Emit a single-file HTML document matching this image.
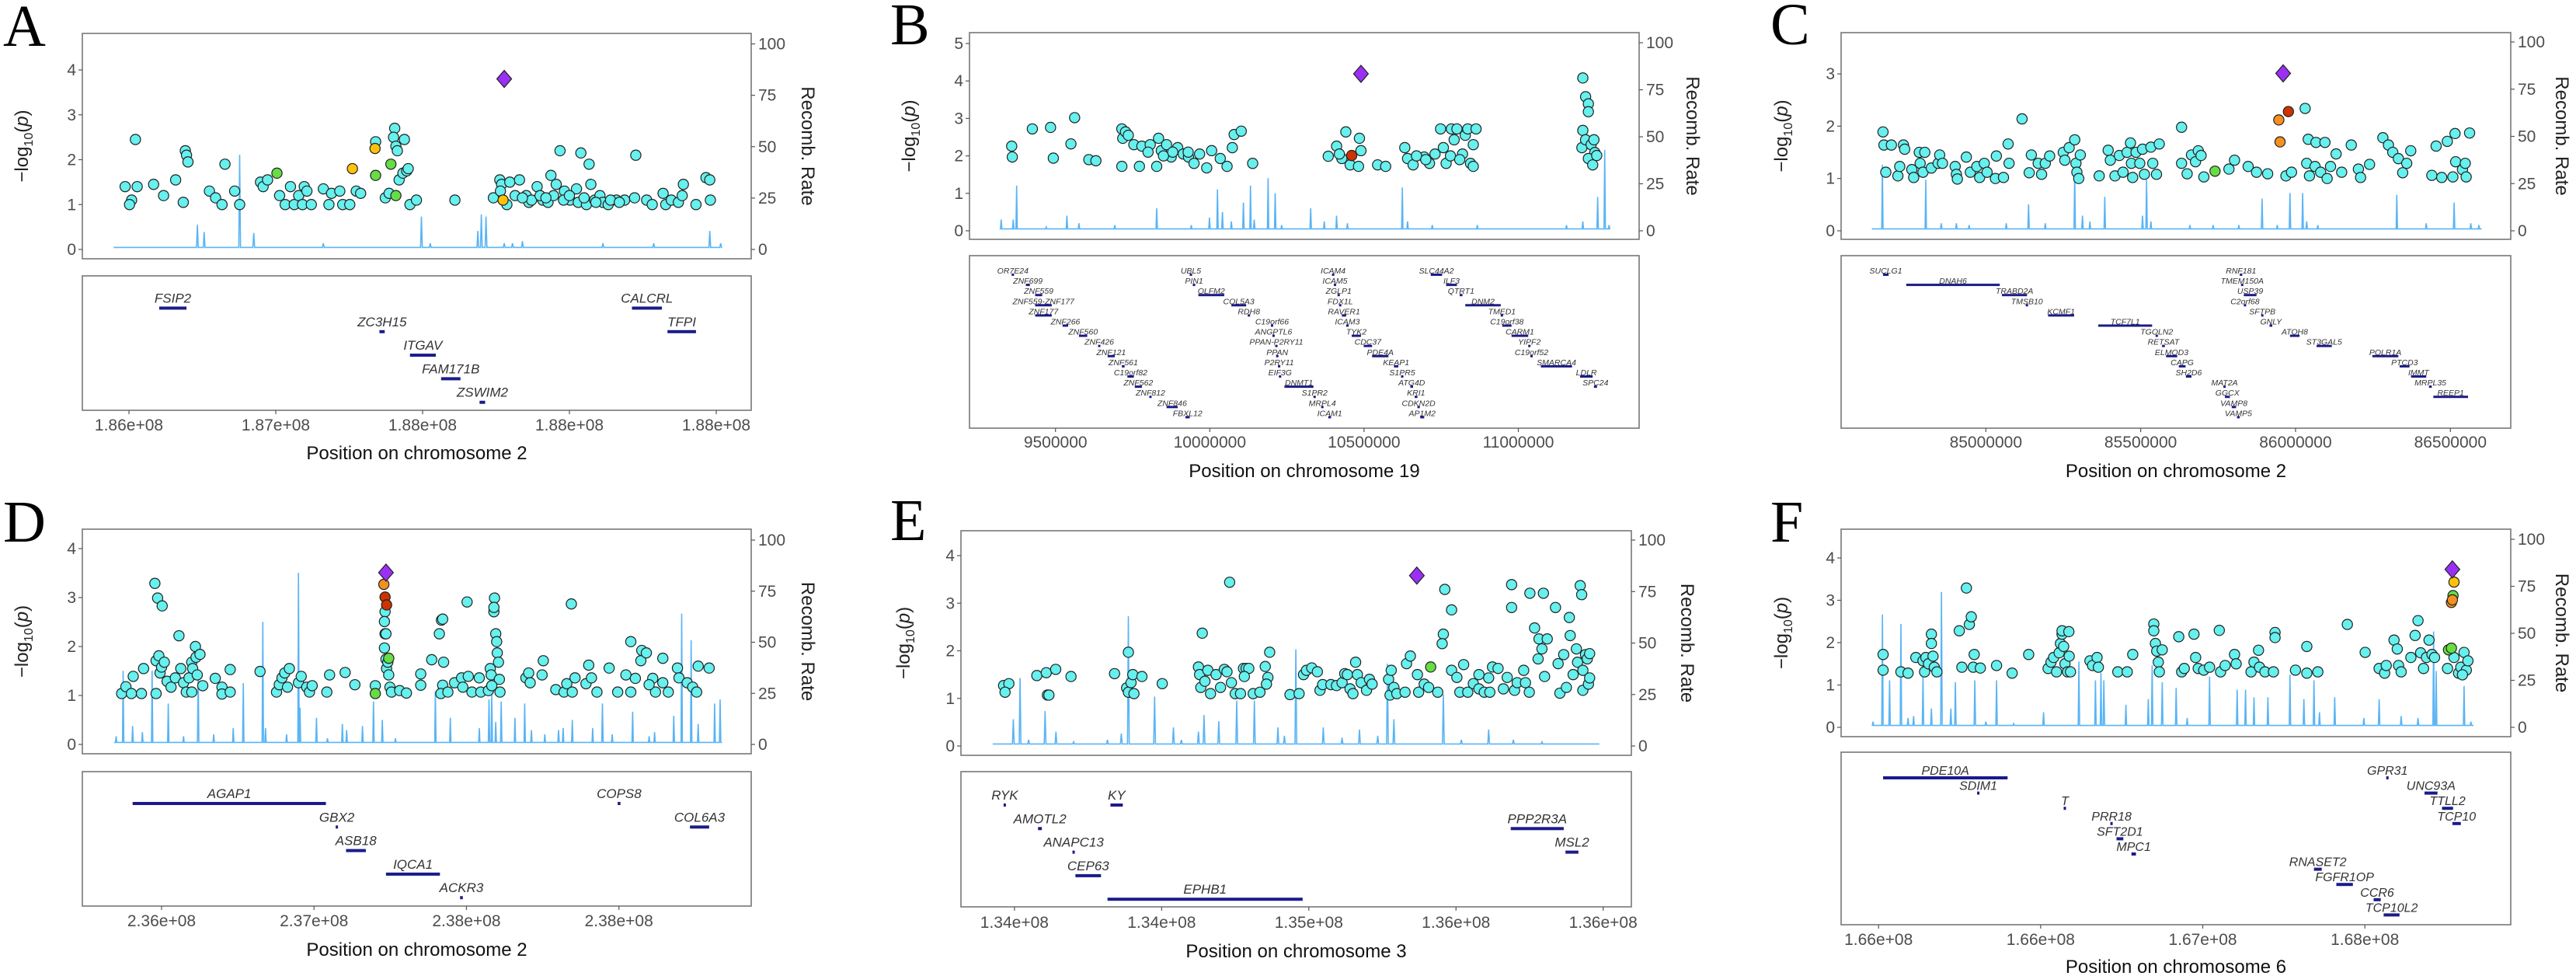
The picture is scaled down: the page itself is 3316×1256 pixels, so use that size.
<!DOCTYPE html>
<html>
<head>
<meta charset="utf-8">
<style>
html,body{margin:0;padding:0;background:#fff;}
svg{display:block;}
text{font-family:"Liberation Sans",Arial,sans-serif;}
</style>
</head>
<body>
<svg id="fig" width="3316" height="1256" viewBox="0 0 3316 1256"></svg>
<script>
/* ================= PANEL A (chr 2) ================= */
const A_xTicks=[186.0,186.5,187.0,187.5,188.0];
const A_xTickLabels=["1.86e+08","1.87e+08","1.88e+08","1.88e+08","1.88e+08"];
const A_yTicks=[0,1,2,3,4];
const A_pos=[185.987,186.009,186.002,186.028,186.022,186.084,186.118,186.159,186.185,186.192,186.196,186.201,186.274,186.295,186.317,186.327,186.360,186.377,186.448,186.457,186.472,186.513,186.532,186.550,186.563,186.578,186.591,186.597,186.606,186.621,186.662,186.681,186.690,186.718,186.728,186.752,186.774,186.789,186.840,186.873,186.886,186.905,186.901,186.909,186.914,186.938,186.920,186.933,186.946,186.951,186.957,186.979,187.110,187.241,187.263,187.269,187.265,187.287,187.297,187.315,187.330,187.353,187.362,187.390,187.409,187.427,187.437,187.446,187.455,187.468,187.483,187.502,187.524,187.539,187.530,187.567,187.573,187.558,187.586,187.604,187.614,187.632,187.660,187.688,187.726,187.722,187.763,187.782,187.819,187.828,187.847,187.871,187.888,187.884,187.931,187.965,187.978,187.980,187.371,187.34,187.40,187.42,187.48,187.50,187.55,187.59,187.64,187.67];
const A_logp=[1.4,1.1,1.0,1.4,2.45,1.45,1.2,1.55,1.05,2.2,2.1,1.95,1.3,1.15,1.0,1.9,1.3,1.0,1.5,1.4,1.55,1.2,1.0,1.4,1.0,1.2,1.0,1.4,1.3,1.0,1.35,1.0,1.25,1.3,1.0,1.0,1.3,1.25,2.4,1.15,1.25,2.7,2.5,2.3,2.2,2.45,1.55,1.7,1.75,1.8,1.0,1.1,1.1,1.15,1.55,1.45,1.3,1.0,1.5,1.2,1.55,1.2,1.05,1.4,1.1,1.05,1.65,1.2,1.45,2.2,1.3,1.1,1.35,2.15,1.05,1.9,1.45,1.0,1.1,1.2,1.05,1.0,1.1,1.1,2.1,1.15,1.1,1.0,1.25,1.0,1.1,1.05,1.45,1.2,1.0,1.6,1.55,1.1,1.1,1.15,1.2,1.15,1.1,1.2,1.15,1.05,1.1,1.05];
const A_hlPos=[186.761,186.838,187.274,186.504,186.840,186.892,186.909];
const A_hlLogp=[1.8,2.25,1.1,1.7,1.65,1.9,1.2];
const A_hlLd=["yellow","yellow","yellow","green","green","green","green"];
const A_leadPos=[187.278];
const A_leadLogp=[3.8];
const A_recPos=[185.948,186.233,186.256,186.377,186.425,186.662,186.996,187.026,187.188,187.200,187.216,187.278,187.306,187.340,187.614,187.787,187.978,188.015,188.02];
const A_recRate=[1,12,8.5,46,8,3,16,3,9,17,16,3,3,4,3,3,9,3,1];
const A_geneName=["FSIP2","CALCRL","ZC3H15","TFPI","ITGAV","FAM171B","ZSWIM2"];
const A_geneStart=[186.103,187.713,186.853,187.834,186.957,187.063,187.194];
const A_geneEnd=[186.196,187.815,186.871,187.931,187.045,187.129,187.213];
const A_geneRow=[0,0,1,1,2,3,4];

/* ================= PANEL B (chr 19) ================= */
const B_xTicks=[9.5,10.0,10.5,11.0];
const B_xTickLabels=["9500000","10000000","10500000","11000000"];
const B_yTicks=[0,1,2,3,4,5];
const B_pos=[9.358,9.360,9.425,9.484,9.493,9.550,9.562,9.608,9.631,9.715,9.718,9.727,9.736,9.715,9.754,9.772,9.780,9.807,9.828,9.834,9.843,9.860,9.875,9.896,9.914,9.931,9.949,9.967,9.990,10.006,10.034,10.056,10.073,10.079,10.102,10.139,10.384,10.411,10.428,10.441,10.455,10.482,10.485,10.490,10.544,10.570,10.632,10.641,10.659,10.695,10.712,10.730,10.748,10.757,10.766,10.783,10.792,10.801,10.819,10.828,10.836,10.845,10.854,10.863,10.854,11.209,11.218,11.227,11.227,11.209,11.206,11.218,11.236,11.245,11.248,11.227,11.241,11.254,9.80,9.85,9.88,9.93,10.67,10.70,10.78,10.81,10.42];
const B_logp=[2.26,1.97,2.72,2.76,1.94,2.32,3.02,1.90,1.87,2.72,2.47,2.64,2.55,1.72,2.30,1.72,2.26,2.30,1.72,2.47,2.14,2.30,1.97,2.22,2.05,1.97,1.80,2.05,1.68,2.14,1.93,1.72,2.22,2.57,2.66,1.80,1.99,2.26,1.93,2.64,1.76,1.72,2.47,2.14,1.76,1.72,2.22,1.93,1.76,1.97,1.80,2.05,2.72,2.22,1.80,2.72,2.43,2.72,2.05,2.55,2.72,1.80,2.30,2.72,1.72,4.08,3.58,3.39,3.18,2.68,2.22,2.43,2.30,2.43,2.09,1.93,1.76,2.01,2.1,2.0,2.1,2.1,2.0,1.9,2.0,1.9,2.05];
const B_hlPos=[10.460];
const B_hlLogp=[2.01];
const B_hlLd=["red"];
const B_leadPos=[10.490];
const B_leadLogp=[4.19];
const B_recPos=[9.319,9.324,9.363,9.374,9.470,9.537,9.576,9.692,9.828,9.940,9.999,10.025,10.041,10.070,10.109,10.132,10.144,10.189,10.212,10.233,10.327,10.371,10.411,10.446,10.624,10.641,10.721,10.867,11.156,11.209,11.257,11.280,11.294,11.298];
const B_recRate=[1,6,6,24,2,8,4,3,12,3,7,22,10,5,15,24,6,28,20,3,12,5,8,4,23,5,3,3,3,5,18,43,3,1];
const B_geneName=["OR7E24","ZNF699","ZNF559","ZNF559-ZNF177","ZNF177","ZNF266","ZNF560","ZNF426","ZNF121","ZNF561","C19orf82","ZNF562","ZNF812","ZNF846","FBXL12",
"UBL5","PIN1","OLFM2","COL5A3","RDH8","C19orf66","ANGPTL6","PPAN-P2RY11","PPAN","P2RY11","EIF3G","DNMT1","S1PR2","MRPL4","ICAM1",
"ICAM4","ICAM5","ZGLP1","FDX1L","RAVER1","ICAM3","TYK2","CDC37","PDE4A","KEAP1","S1PR5","ATG4D","KRI1","CDKN2D","AP1M2",
"SLC44A2","ILF3","QTRT1","DNM2","TMED1","C19orf38","CARM1","YIPF2","C19orf52","SMARCA4","LDLR","SPC24"];
const B_geneStart=[9.358,9.404,9.434,9.434,9.434,9.523,9.576,9.638,9.669,9.715,9.733,9.757,9.804,9.860,9.921,
9.935,9.945,9.963,10.070,10.123,10.198,10.203,10.212,10.215,10.221,10.224,10.242,10.336,10.361,10.384,
10.396,10.402,10.414,10.419,10.428,10.442,10.460,10.499,10.526,10.597,10.620,10.650,10.664,10.673,10.682,
10.716,10.766,10.810,10.828,10.943,10.948,10.978,11.032,11.039,11.073,11.200,11.245];
const B_geneEnd=[9.363,9.417,9.457,9.488,9.488,9.541,9.603,9.642,9.692,9.724,9.754,9.780,9.807,9.896,9.935,
9.938,9.953,10.047,10.118,10.130,10.203,10.208,10.215,10.221,10.224,10.229,10.336,10.340,10.366,10.393,
10.400,10.407,10.419,10.423,10.442,10.450,10.490,10.526,10.579,10.611,10.627,10.659,10.673,10.680,10.695,
10.753,10.801,10.819,10.943,10.948,10.978,11.032,11.037,11.044,11.174,11.241,11.255];
const B_geneRow=[0,1,2,3,4,5,6,7,8,9,10,11,12,13,14,0,1,2,3,4,5,6,7,8,9,10,11,12,13,14,0,1,2,3,4,5,6,7,8,9,10,11,12,13,14,0,1,2,3,4,5,6,7,8,9,10,11];

/* ================= PANEL C (chr 2) ================= */
const C_xTicks=[85.0,85.5,86.0,86.5];
const C_xTickLabels=["85000000","85500000","86000000","86500000"];
const C_yTicks=[0,1,2,3];
const C_pos=[84.668,84.671,84.695,84.677,84.716,84.722,84.734,84.738,84.761,84.767,84.785,84.788,84.803,84.797,84.824,84.846,84.851,84.860,84.901,84.905,84.908,84.937,84.950,84.971,84.980,84.995,85.004,85.031,85.034,85.057,85.075,85.072,85.117,85.140,85.147,85.169,85.180,85.192,85.206,85.250,85.255,85.269,85.287,85.291,85.294,85.300,85.305,85.366,85.395,85.402,85.417,85.431,85.443,85.456,85.467,85.470,85.474,85.485,85.497,85.506,85.512,85.539,85.533,85.560,85.551,85.632,85.632,85.650,85.664,85.677,85.686,85.695,85.704,85.785,85.803,85.847,85.874,85.910,85.969,85.987,86.031,86.041,86.066,86.095,86.036,86.045,86.063,86.081,86.102,86.113,86.131,86.149,86.180,86.203,86.210,86.239,86.282,86.300,86.314,86.332,86.346,86.359,86.372,86.440,86.454,86.472,86.490,86.508,86.515,86.517,86.539,86.548,86.551,86.562];
const C_logp=[1.89,1.64,1.64,1.12,1.05,1.23,1.64,1.56,1.17,1.02,1.50,1.29,1.50,1.12,1.20,1.29,1.45,1.29,1.23,1.08,0.99,1.41,1.12,1.23,1.02,1.29,1.12,1.00,1.43,1.02,1.29,1.66,2.14,1.11,1.45,1.29,1.08,1.29,1.43,1.50,1.35,1.59,1.74,1.29,1.12,1.00,1.45,1.05,1.54,1.35,1.05,1.44,1.12,1.50,1.68,1.29,1.02,1.50,1.29,1.56,1.08,1.29,1.60,1.66,1.08,1.98,1.29,1.09,1.45,1.32,1.53,1.44,1.03,1.18,1.35,1.23,1.12,1.09,1.05,1.12,2.34,1.75,1.69,1.69,1.29,1.05,1.23,1.12,1.00,1.23,1.47,1.12,1.64,1.18,1.02,1.27,1.78,1.64,1.50,1.38,1.11,1.29,1.53,1.06,1.62,1.02,1.71,1.03,1.86,1.32,1.17,1.29,1.03,1.87];
const C_hlPos=[85.740,85.946,85.950,85.977];
const C_hlLogp=[1.14,2.12,1.70,2.28];
const C_hlLd=["green","orange","orange","red"];
const C_leadPos=[85.960];
const C_leadLogp=[3.01];
const C_recPos=[84.632,84.666,84.806,84.856,84.905,84.946,85.066,85.138,85.192,85.287,85.312,85.336,85.384,85.506,85.519,85.533,85.659,85.734,85.817,85.892,85.941,85.982,86.023,86.036,86.072,86.327,86.422,86.512,86.566,86.592,86.601];
const C_recRate=[1,35,27,4,4,3,4,14,4,30,8,5,18,8,27,5,3,3,3,17,3,20,20,5,3,19,4,15,4,3,1];
const C_geneName=["SUCLG1","DNAH6","TRABD2A","TMSB10","KCMF1","TCF7L1","TGOLN2","RETSAT","ELMOD3","CAPG","SH2D6","MAT2A","GGCX","VAMP8","VAMP5","RNF181","TMEM150A","USP39","C2orf68","SFTPB","GNLY","ATOH8","ST3GAL5","POLR1A","PTCD3","IMMT","MRPL35","REEP1"];
const C_geneStart=[84.668,84.743,85.052,85.129,85.201,85.363,85.548,85.569,85.582,85.623,85.646,85.767,85.772,85.794,85.811,85.820,85.824,85.833,85.833,85.889,85.916,85.982,86.068,86.248,86.336,86.373,86.431,86.445];
const C_geneEnd=[84.686,85.045,85.133,85.136,85.285,85.537,85.555,85.578,85.618,85.645,85.664,85.774,85.788,85.808,85.820,85.828,85.831,85.874,85.840,85.896,85.925,86.013,86.117,86.332,86.368,86.422,86.440,86.557];
const C_geneRow=[0,1,2,3,4,5,6,7,8,9,10,11,12,13,14,0,1,2,3,4,5,6,7,8,9,10,11,12];

/* ================= PANEL D (chr 2) ================= */
const D_xTicks=[236.0,236.5,237.0,237.5];
const D_xTickLabels=["2.36e+08","2.37e+08","2.38e+08","2.38e+08"];
const D_yTicks=[0,1,2,3,4];
const D_pos=[235.869,235.883,235.907,235.901,235.934,235.941,235.978,235.987,236.002,235.982,235.982,235.991,235.995,236.000,236.009,236.018,236.031,236.045,236.057,236.063,236.072,236.081,236.090,236.099,236.102,236.111,236.113,236.117,236.126,236.135,236.099,236.176,236.198,236.198,236.225,236.225,236.323,236.377,236.386,236.395,236.404,236.419,236.413,236.449,236.458,236.476,236.485,236.494,236.542,236.551,236.602,236.634,236.701,236.733,236.731,236.733,236.731,236.736,236.738,236.745,236.749,236.754,236.742,236.736,236.781,236.803,236.850,236.850,236.886,236.911,236.918,236.922,236.925,236.922,236.916,236.939,236.961,236.984,236.988,237.002,237.006,237.018,237.042,237.047,237.072,237.078,237.081,237.090,237.092,237.090,237.096,237.099,237.101,237.105,237.108,237.110,237.083,237.195,237.204,237.209,237.252,237.248,237.293,237.320,237.329,237.344,237.347,237.356,237.392,237.401,237.410,237.428,237.468,237.496,237.523,237.539,237.539,237.572,237.575,237.590,237.554,237.611,237.620,237.644,237.662,237.692,237.697,237.724,237.742,237.755,237.760,237.796,237.599,237.644];
const D_logp=[1.04,1.18,1.39,1.04,1.04,1.55,3.29,2.99,2.83,1.04,1.71,1.81,1.46,1.58,1.68,1.29,1.17,1.36,2.22,1.55,1.26,1.07,1.36,1.68,1.55,2.00,1.78,1.42,1.84,1.20,1.07,1.35,1.17,1.03,1.07,1.53,1.49,1.07,1.22,1.36,1.46,1.55,1.17,1.26,1.39,1.17,1.07,1.20,1.07,1.42,1.47,1.22,1.20,2.71,2.51,2.26,1.97,1.74,1.55,1.42,1.17,1.07,1.68,2.26,1.10,1.05,1.44,1.21,1.73,2.26,2.54,2.56,1.68,1.21,1.04,1.07,1.26,1.36,1.17,2.91,1.39,1.07,1.36,1.07,1.10,1.55,1.42,2.71,2.99,2.80,2.26,2.10,1.87,1.68,1.33,1.07,1.20,1.36,1.46,1.26,1.71,1.42,1.12,1.07,1.24,2.87,1.07,1.36,1.24,1.62,1.36,1.07,1.56,1.07,1.42,1.07,2.10,1.71,1.92,1.87,1.35,1.35,1.07,1.76,1.07,1.56,1.36,1.26,1.17,1.07,1.60,1.56,1.22,1.26];
const D_hlPos=[236.745,236.701,236.729,236.733,236.738];
const D_hlLogp=[1.76,1.04,3.27,3.01,2.85];
const D_hlLd=["green","green","orange","red","red"];
const D_leadPos=[236.736];
const D_leadLogp=[3.51];
const D_recPos=[235.844,235.851,235.874,235.905,235.937,235.969,236.022,236.072,236.120,236.171,236.235,236.268,236.332,236.341,236.410,236.449,236.454,236.508,236.544,236.593,236.607,236.659,236.695,236.724,236.767,236.898,236.947,237.042,237.074,237.083,237.096,237.114,237.159,237.191,237.213,237.257,237.302,237.317,237.347,237.414,237.446,237.478,237.545,237.599,237.617,237.680,237.706,237.737,237.760,237.814,237.832,237.838];
const D_recRate=[1,4,36,9,6,36,20,4,36,5,8,30,60,8,5,84,18,13,3,10,7,9,21,12,3,26,13,8,22,25,11,21,13,20,7,5,7,8,12,8,20,5,16,4,6,14,64,51,10,20,22,1];
const D_geneName=["AGAP1","COPS8","GBX2","COL6A3","ASB18","IQCA1","ACKR3"];
const D_geneStart=[235.905,237.496,236.571,237.733,236.605,236.736,236.979];
const D_geneEnd=[236.539,237.505,236.578,237.796,236.670,236.913,236.988];
const D_geneRow=[0,0,1,1,2,3,4];

/* ================= PANEL E (chr 3) ================= */
const E_xTicks=[134.0,134.5,135.0,135.5,136.0];
const E_xTickLabels=["1.34e+08","1.34e+08","1.35e+08","1.36e+08","1.36e+08"];
const E_yTicks=[0,1,2,3,4];
const E_pos=[133.963,133.981,133.968,134.076,134.108,134.112,134.117,134.140,134.192,134.340,134.387,134.381,134.387,134.396,134.402,134.406,134.433,134.502,134.625,134.629,134.633,134.638,134.647,134.657,134.666,134.685,134.700,134.713,134.722,134.731,134.737,134.750,134.768,134.778,134.787,134.796,134.781,134.811,134.834,134.852,134.861,134.867,134.856,134.936,134.967,134.982,134.992,135.010,135.029,135.038,135.047,135.075,135.094,135.113,135.122,135.131,135.140,135.150,135.159,135.165,135.178,135.196,135.206,135.215,135.271,135.280,135.276,135.289,135.299,135.327,135.332,135.345,135.369,135.373,135.392,135.407,135.438,135.457,135.453,135.462,135.485,135.485,135.503,135.513,135.526,135.540,135.559,135.578,135.578,135.596,135.611,135.615,135.624,135.643,135.661,135.674,135.689,135.689,135.699,135.708,135.730,135.736,135.749,135.751,135.767,135.779,135.782,135.792,135.797,135.801,135.810,135.838,135.847,135.853,135.866,135.875,135.885,135.888,135.898,135.909,135.913,135.922,135.927,135.931,135.931,135.940,135.946,135.950,135.954,135.954];
const E_logp=[1.27,1.31,1.13,1.48,1.54,1.07,1.07,1.61,1.46,1.52,1.97,1.22,1.13,1.33,1.50,1.10,1.46,1.31,1.66,1.50,1.23,2.37,1.36,1.59,1.10,1.50,1.23,1.61,1.56,3.44,1.33,1.10,1.10,1.63,1.63,1.63,1.46,1.10,1.13,1.67,1.44,1.97,1.30,1.08,1.10,1.50,1.59,1.64,1.56,1.17,1.29,1.29,1.27,1.33,1.52,1.50,1.20,1.10,1.76,1.50,1.33,1.17,1.40,1.30,1.40,1.59,1.07,1.23,1.10,1.13,1.73,1.89,1.50,1.13,1.30,1.23,1.13,2.35,2.15,3.29,2.86,1.59,1.44,1.13,1.71,1.13,1.31,1.20,1.50,1.13,1.43,1.13,1.66,1.63,1.20,1.44,3.39,2.91,1.17,1.33,1.59,1.33,1.13,3.21,2.48,1.83,2.25,2.04,3.21,1.46,2.25,2.91,1.73,1.11,1.92,1.23,2.70,2.32,1.50,2.04,1.76,3.37,3.18,1.59,1.17,1.92,1.83,1.30,1.43,1.94];
const E_hlPos=[135.414];
const E_hlLogp=[1.66];
const E_hlLd=["green"];
const E_leadPos=[135.367];
const E_leadLogp=[3.58];
const E_recPos=[133.926,133.996,134.019,134.048,134.104,134.141,134.201,134.316,134.363,134.387,134.476,134.540,134.567,134.625,134.644,134.694,134.755,134.815,134.895,134.917,134.956,135.049,135.113,135.172,135.234,135.267,135.289,135.457,135.518,135.611,135.695,135.792,135.987];
const E_recRate=[1,13,33,3,17,7,2,3,6,63,24,9,3,7,15,12,22,22,9,5,47,9,4,8,5,40,13,25,3,8,3,2,1];
const E_geneName=["RYK","KY","AMOTL2","PPP2R3A","ANAPC13","MSL2","CEP63","EPHB1"];
const E_geneStart=[133.963,134.326,134.080,135.686,134.197,135.872,134.207,134.316];
const E_geneEnd=[133.970,134.368,134.093,135.866,134.205,135.916,134.294,134.979];
const E_geneRow=[0,0,1,1,2,2,3,4];

/* ================= PANEL F (chr 6) ================= */
const F_xTicks=[166.0,166.5,167.0,167.5];
const F_xTickLabels=["1.66e+08","1.66e+08","1.67e+08","1.68e+08"];
const F_yTicks=[0,1,2,3,4];
const F_pos=[166.014,166.014,166.069,166.091,166.115,166.137,166.146,166.142,166.154,166.163,166.163,166.168,166.172,166.180,166.249,166.257,166.271,166.280,166.286,166.295,166.292,166.314,166.364,166.412,166.463,166.523,166.532,166.540,166.549,166.557,166.561,166.566,166.566,166.571,166.575,166.583,166.588,166.592,166.587,166.652,166.660,166.674,166.678,166.738,166.767,166.784,166.849,166.849,166.854,166.858,166.863,166.866,166.875,166.926,166.935,166.943,166.973,166.978,166.986,167.003,167.021,167.051,167.055,167.069,167.098,167.103,167.149,167.158,167.172,167.175,167.192,167.218,167.223,167.223,167.286,167.321,167.321,167.355,167.446,167.501,167.544,167.561,167.566,167.590,167.600,167.604,167.612,167.642,167.655,167.664,167.672,167.681,167.690,167.698,167.707,167.715,167.755,167.775,167.789,167.796,167.806,167.813,167.818,167.801];
const F_logp=[1.72,1.35,1.31,1.28,1.65,1.57,1.65,1.31,1.50,2.20,1.98,1.68,1.42,1.31,2.28,1.42,3.29,2.43,2.61,1.72,1.42,1.40,1.46,1.28,1.72,1.39,1.54,1.65,1.31,1.76,1.98,2.20,2.28,1.91,1.50,1.31,1.68,1.31,2.26,1.57,1.46,1.65,1.42,1.31,1.31,1.72,2.44,2.28,1.98,1.80,1.54,1.31,1.83,2.14,1.31,1.39,2.20,1.65,1.39,1.35,1.42,2.29,1.31,1.46,1.72,1.50,1.31,1.54,1.82,1.42,1.31,1.31,2.24,2.12,1.35,1.91,1.28,1.31,2.43,1.77,1.39,1.28,1.46,2.06,1.85,1.46,1.31,1.65,2.17,2.52,1.76,1.39,1.65,2.06,1.72,1.65,1.39,1.65,1.28,1.42,1.77,1.35,1.57,1.24];
const F_hlPos=[167.758,167.767,167.772,167.767,167.770,167.775];
const F_hlLogp=[1.83,1.87,3.11,2.95,3.01,3.43];
const F_hlLd=["green","green","green","orange","orange","yellow"];
const F_leadPos=[167.770];
const F_leadLogp=[3.73];
const F_recPos=[165.979,165.983,166.012,166.034,166.069,166.091,166.108,166.137,166.163,166.194,166.223,166.237,166.297,166.331,166.364,166.417,166.509,166.618,166.669,166.686,166.695,166.763,166.832,166.844,166.875,166.918,166.952,167.021,167.106,167.132,167.158,167.201,167.269,167.312,167.343,167.360,167.407,167.497,167.544,167.612,167.664,167.712,167.720,167.806,167.827,167.835];
const F_recRate=[1,3,60,25,55,5,6,27,10,72,10,24,25,3,25,2,8,35,25,29,25,12,15,33,24,21,5,27,20,20,16,16,28,15,25,8,16,5,15,6,5,51,30,22,3,1];
const F_geneName=["PDE10A","GPR31","SDIM1","UNC93A","T","TTLL2","PRR18","TCP10","SFT2D1","MPC1","RNASET2","FGFR1OP","CCR6","TCP10L2"];
const F_geneStart=[166.014,167.566,166.304,167.684,166.571,167.738,166.715,167.770,166.734,166.780,167.343,167.412,167.527,167.558];
const F_geneEnd=[166.398,167.573,166.310,167.724,166.578,167.772,166.722,167.796,166.755,166.794,167.367,167.463,167.549,167.607];
const F_geneRow=[0,0,1,1,2,2,3,3,4,5,6,7,8,9];

/* ================= layout (axis calibration only) ================= */
const panels=[
 {id:"a",letter:"A",lx:4,ly:59,box:[106,43,967,333],gbox:[355,528],xPix:[166,922],xVal:[186,188],y0:321,yUnit:57.75,r100:56.5,rowY:396.5,rowDy:30.3,gFont:17,gOff:7,gH:4,tickY:547,xLabY:583,ylabX:28,rlabX:1040,chrom:"2",
  xTicks:A_xTicks,xTickLabels:A_xTickLabels,yTicks:A_yTicks,pos:A_pos,logp:A_logp,hlPos:A_hlPos,hlLogp:A_hlLogp,hlLd:A_hlLd,leadPos:A_leadPos,leadLogp:A_leadLogp,recPos:A_recPos,recRate:A_recRate,gName:A_geneName,gStart:A_geneStart,gEnd:A_geneEnd,gRow:A_geneRow},
 {id:"b",letter:"B",lx:1146,ly:57,box:[1248,42,2110,308],gbox:[329,551],xPix:[1358.7,1954.5],xVal:[9.5,11.0],y0:297,yUnit:48.2,r100:55,rowY:353.5,rowDy:13.1,gFont:10.5,gOff:1.5,gH:3,tickY:569,xLabY:606,ylabX:1170,rlabX:2179,chrom:"19",
  xTicks:B_xTicks,xTickLabels:B_xTickLabels,yTicks:B_yTicks,pos:B_pos,logp:B_logp,hlPos:B_hlPos,hlLogp:B_hlLogp,hlLd:B_hlLd,leadPos:B_leadPos,leadLogp:B_leadLogp,recPos:B_recPos,recRate:B_recRate,gName:B_geneName,gStart:B_geneStart,gEnd:B_geneEnd,gRow:B_geneRow},
 {id:"c",letter:"C",lx:2279,ly:57,box:[2370,42,3232,308],gbox:[329,551],xPix:[2556.3,3154.3],xVal:[85,86.5],y0:297,yUnit:67.3,r100:54,rowY:353.5,rowDy:13.1,gFont:10.5,gOff:1.5,gH:3,tickY:569,xLabY:606,ylabX:2293,rlabX:3298,chrom:"2",
  xTicks:C_xTicks,xTickLabels:C_xTickLabels,yTicks:C_yTicks,pos:C_pos,logp:C_logp,hlPos:C_hlPos,hlLogp:C_hlLogp,hlLd:C_hlLd,leadPos:C_leadPos,leadLogp:C_leadLogp,recPos:C_recPos,recRate:C_recRate,gName:C_geneName,gStart:C_geneStart,gEnd:C_geneEnd,gRow:C_geneRow},
 {id:"d",letter:"D",lx:4,ly:697,box:[106,681,967,970],gbox:[993,1166],xPix:[208,796.7],xVal:[236,237.5],y0:958,yUnit:63,r100:695,rowY:1034,rowDy:30.3,gFont:17,gOff:7,gH:4,tickY:1185,xLabY:1222,ylabX:28,rlabX:1040,chrom:"2",
  xTicks:D_xTicks,xTickLabels:D_xTickLabels,yTicks:D_yTicks,pos:D_pos,logp:D_logp,hlPos:D_hlPos,hlLogp:D_hlLogp,hlLd:D_hlLd,leadPos:D_leadPos,leadLogp:D_leadLogp,recPos:D_recPos,recRate:D_recRate,gName:D_geneName,gStart:D_geneStart,gEnd:D_geneEnd,gRow:D_geneRow},
 {id:"e",letter:"E",lx:1146,ly:695,box:[1237,683,2100,972],gbox:[993,1167],xPix:[1305.9,2063.7],xVal:[134,136],y0:960,yUnit:61.25,r100:695,rowY:1036,rowDy:30.3,gFont:17,gOff:7,gH:4,tickY:1187,xLabY:1224,ylabX:1163,rlabX:2172,chrom:"3",
  xTicks:E_xTicks,xTickLabels:E_xTickLabels,yTicks:E_yTicks,pos:E_pos,logp:E_logp,hlPos:E_hlPos,hlLogp:E_hlLogp,hlLd:E_hlLd,leadPos:E_leadPos,leadLogp:E_leadLogp,recPos:E_recPos,recRate:E_recRate,gName:E_geneName,gStart:E_geneStart,gEnd:E_geneEnd,gRow:E_geneRow},
 {id:"f",letter:"F",lx:2279,ly:697,box:[2370,681,3232,948],gbox:[968,1190],xPix:[2418.2,3044.2],xVal:[166,167.5],y0:936,yUnit:54.5,r100:694,rowY:1001,rowDy:19.6,gFont:16,gOff:4,gH:4,tickY:1209,xLabY:1244,ylabX:2293,rlabX:3298,chrom:"6",
  xTicks:F_xTicks,xTickLabels:F_xTickLabels,yTicks:F_yTicks,pos:F_pos,logp:F_logp,hlPos:F_hlPos,hlLogp:F_hlLogp,hlLd:F_hlLd,leadPos:F_leadPos,leadLogp:F_leadLogp,recPos:F_recPos,recRate:F_recRate,gName:F_geneName,gStart:F_geneStart,gEnd:F_geneEnd,gRow:F_geneRow}
];
const ldColor={yellow:"#FFC20A",green:"#66DD44",orange:"#F39020",red:"#CC3300"};

const root=document.getElementById("fig");
const NS=root.namespaceURI;
function el(tag,parent,attrs){const e=document.createElementNS(NS,tag);for(const k in attrs)e.setAttribute(k,attrs[k]);parent.appendChild(e);return e;}

function drawPanel(P){
  const [l,t,r,b]=P.box;
  const xs=v=>P.xPix[0]+(v-P.xVal[0])/(P.xVal[1]-P.xVal[0])*(P.xPix[1]-P.xPix[0]);
  const ys=v=>P.y0-v*P.yUnit;
  const rs=v=>P.y0-v*(P.y0-P.r100)/100;
  const g=el("g",root,{});
  
  

  const letter=el("text",g,{x:P.lx,y:P.ly,"font-size":76,fill:"#000",style:"font-family:'Liberation Serif',serif"});
  
  
  letter.textContent=P.letter;

  const box=el("rect",g,{x:l,y:t,width:r-l,height:b-t,fill:"#fff",stroke:"#777","stroke-width":1.6});
  
  

  P.yTicks.forEach(v=>{
    const tk=el("line",g,{x1:l-5,x2:l,y1:ys(v),y2:ys(v),stroke:"#555","stroke-width":1.2});
    
    
    const tl=el("text",g,{x:l-8,y:ys(v)+7,"text-anchor":"end","font-size":21,fill:"#4d4d4d"});
    
    
    tl.textContent=v;
  });
  [0,25,50,75,100].forEach(v=>{
    const tk=el("line",g,{x1:r,x2:r+5,y1:rs(v),y2:rs(v),stroke:"#555","stroke-width":1.2});
    
    
    const tl=el("text",g,{x:r+9,y:rs(v)+7,"font-size":21,fill:"#4d4d4d"});
    
    
    tl.textContent=v;
  });
  const cy=(t+b)/2;
  const yl=el("text",g,{x:P.ylabX,y:cy,"text-anchor":"middle","font-size":24,fill:"#222",transform:"rotate(-90 "+P.ylabX+" "+cy+") translate(0 8)"});
  
  
  yl.innerHTML='\u2212log<tspan font-size="16" dy="6">10</tspan><tspan dy="-6">(</tspan><tspan font-style="italic">p</tspan>)';
  const rl=el("text",g,{x:P.rlabX,y:cy,"text-anchor":"middle","font-size":24,fill:"#222",transform:"rotate(90 "+P.rlabX+" "+cy+") translate(0 8)"});
  
  
  rl.textContent="Recomb. Rate";

  const pts=[];
  const d=0.0022*(P.xVal[1]-P.xVal[0])/1.5;
  P.recPos.forEach((p,i)=>{
    if(i===0||i===P.recPos.length-1){pts.push([xs(p),rs(P.recRate[i])]);}
    else{pts.push([xs(p-d),rs(1)]);pts.push([xs(p),rs(P.recRate[i])]);pts.push([xs(p+d),rs(1)]);}
  });
  const rec=el("polyline",g,{points:pts.map(q=>q[0].toFixed(1)+","+q[1].toFixed(1)).join(" "),fill:"none",stroke:"#5AB4F5","stroke-width":1.6});
  
  

  P.pos.forEach((p,i)=>{
    const c=el("circle",g,{cx:xs(p),cy:ys(P.logp[i]),r:6.6,fill:"#66F0EE",stroke:"#222","stroke-width":1.2});
    
    
  });
  P.hlPos.forEach((p,i)=>{
    const c=el("circle",g,{cx:xs(p),cy:ys(P.hlLogp[i]),r:6.6,fill:ldColor[P.hlLd[i]],stroke:"#222","stroke-width":1.2});
    
    
  });
  P.leadPos.forEach((p,i)=>{
    const x=xs(p),y=ys(P.leadLogp[i]);
    const dm=el("polygon",g,{points:[[x,y-11],[x+9.5,y],[x,y+11],[x-9.5,y]].map(q=>q.join(",")).join(" "),fill:"#9B30F5",stroke:"#222","stroke-width":1.2});
    
    
  });

  const [gt,gb]=P.gbox;
  const gbx=el("rect",g,{x:l,y:gt,width:r-l,height:gb-gt,fill:"#fff",stroke:"#777","stroke-width":1.6});
  
  
  P.gName.forEach((n,i)=>{
    const x1=xs(P.gStart[i]),x2=xs(P.gEnd[i]);
    const w=Math.max(3,x2-x1);
    const yy=P.rowY+P.gRow[i]*P.rowDy;
    const bar=el("rect",g,{x:x1,y:yy-P.gH/2,width:w,height:P.gH,fill:"#1B1B8A"});
    
    
    const lab=el("text",g,{x:x1+w/2,y:yy-P.gOff,"text-anchor":"middle","font-size":P.gFont,"font-style":"italic",fill:"#333"});
    
    
    lab.textContent=n;
  });
  P.xTicks.forEach((v,i)=>{
    const tk=el("line",g,{x1:xs(v),x2:xs(v),y1:gb,y2:gb+5,stroke:"#555","stroke-width":1.2});
    
    
    const tl=el("text",g,{x:xs(v),y:P.tickY+7,"text-anchor":"middle","font-size":21,fill:"#4d4d4d"});
    
    
    tl.textContent=P.xTickLabels[i];
  });
  const xl=el("text",g,{x:(l+r)/2,y:P.xLabY+8,"text-anchor":"middle","font-size":24,fill:"#111"});
  
  
  xl.textContent="Position on chromosome "+P.chrom;
}
panels.forEach(drawPanel);
</script>
</body>
</html>
